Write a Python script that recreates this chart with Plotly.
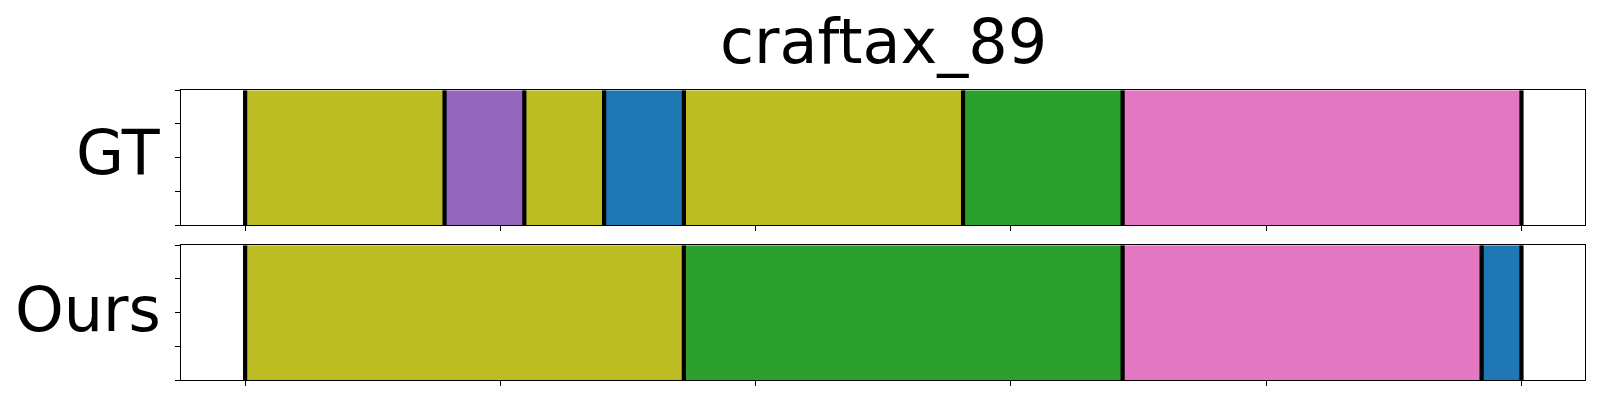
import plotly.graph_objects as go

# ---- data ----
title_text = "craftax_89"
row_labels = ["GT", "Ours"]
n_frames = 32
gt_bounds = [0, 5, 7, 9, 11, 18, 22, 32]
gt_classes = [8, 4, 8, 0, 8, 2, 6]
ours_bounds = [0, 11, 22, 31, 32]
ours_classes = [8, 2, 6, 0]
x_ticks = [0, 6.4, 12.8, 19.2, 25.6, 32]
y_ticks = [0, 0.25, 0.5, 0.75, 1.0]

tab10 = ["#1f77b4", "#ff7f0e", "#2ca02c", "#d62728", "#9467bd",
         "#8c564b", "#e377c2", "#7f7f7f", "#bcbd22", "#17becf"]

W, H = 1600, 400
fig = go.Figure()

rows = [(gt_bounds, gt_classes, "x", "y"), (ours_bounds, ours_classes, "x2", "y2")]
for bounds, classes, xa, ya in rows:
    for i, c in enumerate(classes):
        fig.add_trace(go.Bar(
            orientation="h", y=[0.5], x=[bounds[i + 1] - bounds[i]], base=[bounds[i]],
            width=[1.0], marker=dict(color=tab10[c], line=dict(width=0)),
            xaxis=xa, yaxis=ya, showlegend=False, hoverinfo="skip"))
    lx, ly = [], []
    for b in bounds:
        lx += [b, b, None]
        ly += [0, 1, None]
    fig.add_trace(go.Scatter(x=lx, y=ly, mode="lines", line=dict(color="black", width=4.2),
                             xaxis=xa, yaxis=ya, showlegend=False, hoverinfo="skip"))

xdom = [181.3 / W, 1585.3 / W]
pad = 0.05 * n_frames
common_x = dict(range=[-pad, n_frames + pad], tickvals=x_ticks, showticklabels=False,
                ticks="outside", ticklen=5, tickwidth=1, tickcolor="black",
                showline=True, linecolor="black", linewidth=1.1, mirror=True,
                showgrid=False, zeroline=False, domain=xdom)
common_y = dict(range=[0, 1], tickvals=y_ticks, showticklabels=False,
                ticks="outside", ticklen=5, tickwidth=1, tickcolor="black",
                showline=True, linecolor="black", linewidth=1.1, mirror=True,
                showgrid=False, zeroline=False)

fig.update_layout(
    width=W, height=H, margin=dict(l=0, r=0, t=0, b=0),
    paper_bgcolor="white", plot_bgcolor="white", barmode="overlay",
    font=dict(family="DejaVu Sans", color="black"),
    xaxis=dict(**common_x, anchor="y"),
    yaxis=dict(**common_y, domain=[1 - 225 / H, 1 - 90.3 / H], anchor="x"),
    xaxis2=dict(**common_x, anchor="y2"),
    yaxis2=dict(**common_y, domain=[1 - 380 / H, 1 - 245.3 / H], anchor="x2"),
    annotations=[
        dict(text=title_text, x=883.3 / W, y=1 - 41.8 / H, xref="paper", yref="paper",
             xanchor="center", yanchor="middle", showarrow=False, font=dict(size=62)),
        dict(text=row_labels[0], x=163 / W, y=1 - 152.8 / H, xref="paper", yref="paper",
             xanchor="right", yanchor="middle", showarrow=False, font=dict(size=62)),
        dict(text=row_labels[1], x=163 / W, y=1 - 309.5 / H, xref="paper", yref="paper",
             xanchor="right", yanchor="middle", showarrow=False, font=dict(size=62)),
    ],
)

fig.write_html(
    "out.html",
    config={"displayModeBar": False, "staticPlot": True},
    post_script="document.body.style.margin='0';document.body.style.overflow='hidden';",
)
